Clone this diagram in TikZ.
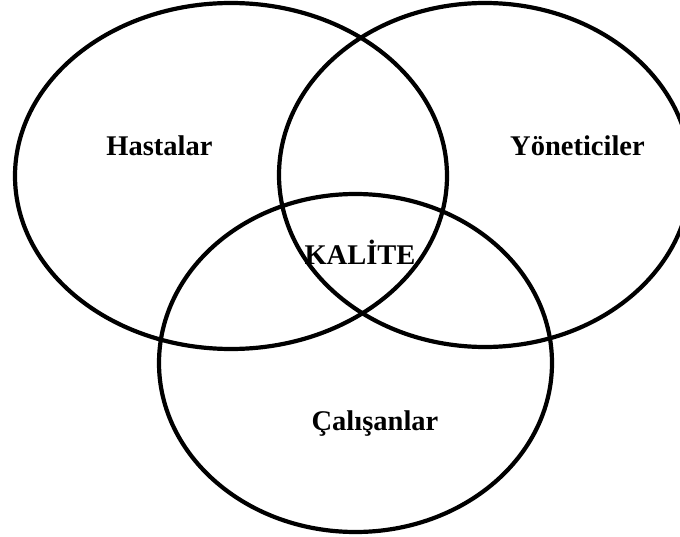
\documentclass[tikz,border=0pt]{standalone}
\usepackage{fontspec}
\setmainfont{Liberation Serif}
\begin{document}
\begin{tikzpicture}[x=1bp,y=-1bp,
  ring/.style={draw=black,line width=4.2bp},
  lbl/.style={anchor=base,inner sep=0pt,font=\fontsize{28.5bp}{34bp}\selectfont\bfseries}]
\useasboundingbox (0,0) rectangle (680,537);
\clip (0,0) rectangle (680,537);
\draw[ring] (231,176) ellipse [x radius=216, y radius=173];
\draw[ring] (485,175) ellipse [x radius=206, y radius=172];
\draw[ring] (355.5,363) ellipse [x radius=196.5, y radius=169];
\node[lbl] (h) at (159.5,156) {Hastalar};
\node[lbl] (y) at (577.5,156) {Yöneticiler};
\node[lbl] (k) at (360,265) {KALİTE};
\node[lbl] (c) at (375,430) {Çalışanlar};
\end{tikzpicture}
\end{document}
